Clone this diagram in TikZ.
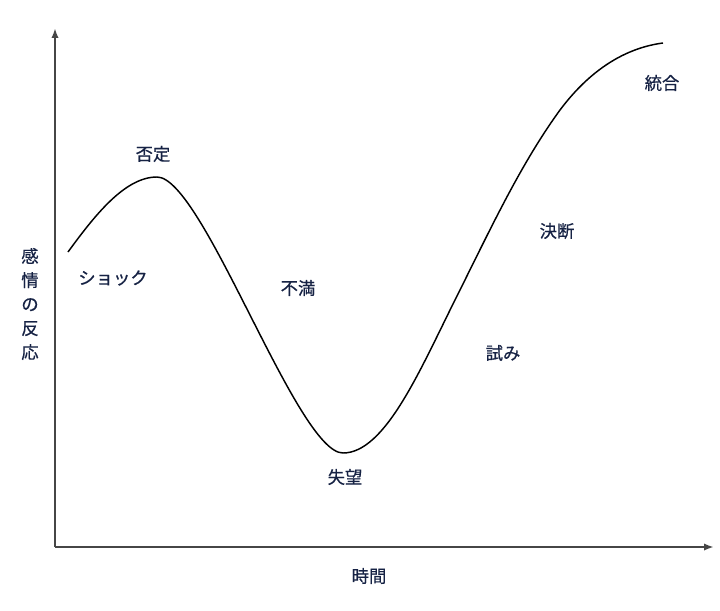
\documentclass[tikz,border=0pt]{standalone}
\usepackage{fontspec}
\setmainfont{Noto Sans CJK JP}[FakeBold=0.6]
\usetikzlibrary{arrows.meta}
\definecolor{labelnavy}{RGB}{22,34,68}
\definecolor{axisgray}{RGB}{70,70,70}
\tikzset{
  lbl/.style={text=labelnavy, font=\fontsize{13}{16}\selectfont, inner sep=0pt},
  axisline/.style={draw=axisgray, line width=1.5pt, -{Latex[length=7.5pt,width=5.5pt]}},
  curveline/.style={draw=black, line width=1.1pt}
}
\begin{document}
\begin{tikzpicture}[x=0.75pt,y=-0.75pt]
\useasboundingbox (0,0) rectangle (720,610);
\coordinate (origin) at (55,547);
\coordinate (ytip) at (55,28);
\coordinate (xtip) at (714,547);
\draw[axisline] (origin) -- (ytip);
\draw[axisline] (origin) -- (xtip);
\coordinate (cstart) at (68,252);
\coordinate (cpeak) at (157,177);
\coordinate (cmin) at (343,453);
\coordinate (crise) at (455,300);
\coordinate (cbend) at (560,110);
\coordinate (cend) at (663,43);
\draw[curveline] (cstart) .. controls (95,215) and (125,177) .. (cpeak)
  .. controls (203,177) and (297,453) .. (cmin)
  .. controls (385,453) and (420,370) .. (crise)
  .. controls (490,230) and (520,165) .. (cbend)
  .. controls (590,70) and (625,48) .. (cend);
\node[lbl] (foutei) at (153,154) {否定};
\node[lbl] (shock) at (113,278) {ショック};
\node[lbl] (fuman) at (298,288) {不満};
\node[lbl] (shitsubou) at (345,477) {失望};
\node[lbl] (kokoromi) at (503,353) {試み};
\node[lbl] (ketsudan) at (557,231) {決断};
\node[lbl] (tougou) at (662,83) {統合};
\node[lbl] (jikan) at (369,576) {時間};
\node[lbl, align=center, font=\fontsize{13}{18}\selectfont] (kanjou) at (30,304) {感\\情\\の\\反\\応};
\end{tikzpicture}
\end{document}
